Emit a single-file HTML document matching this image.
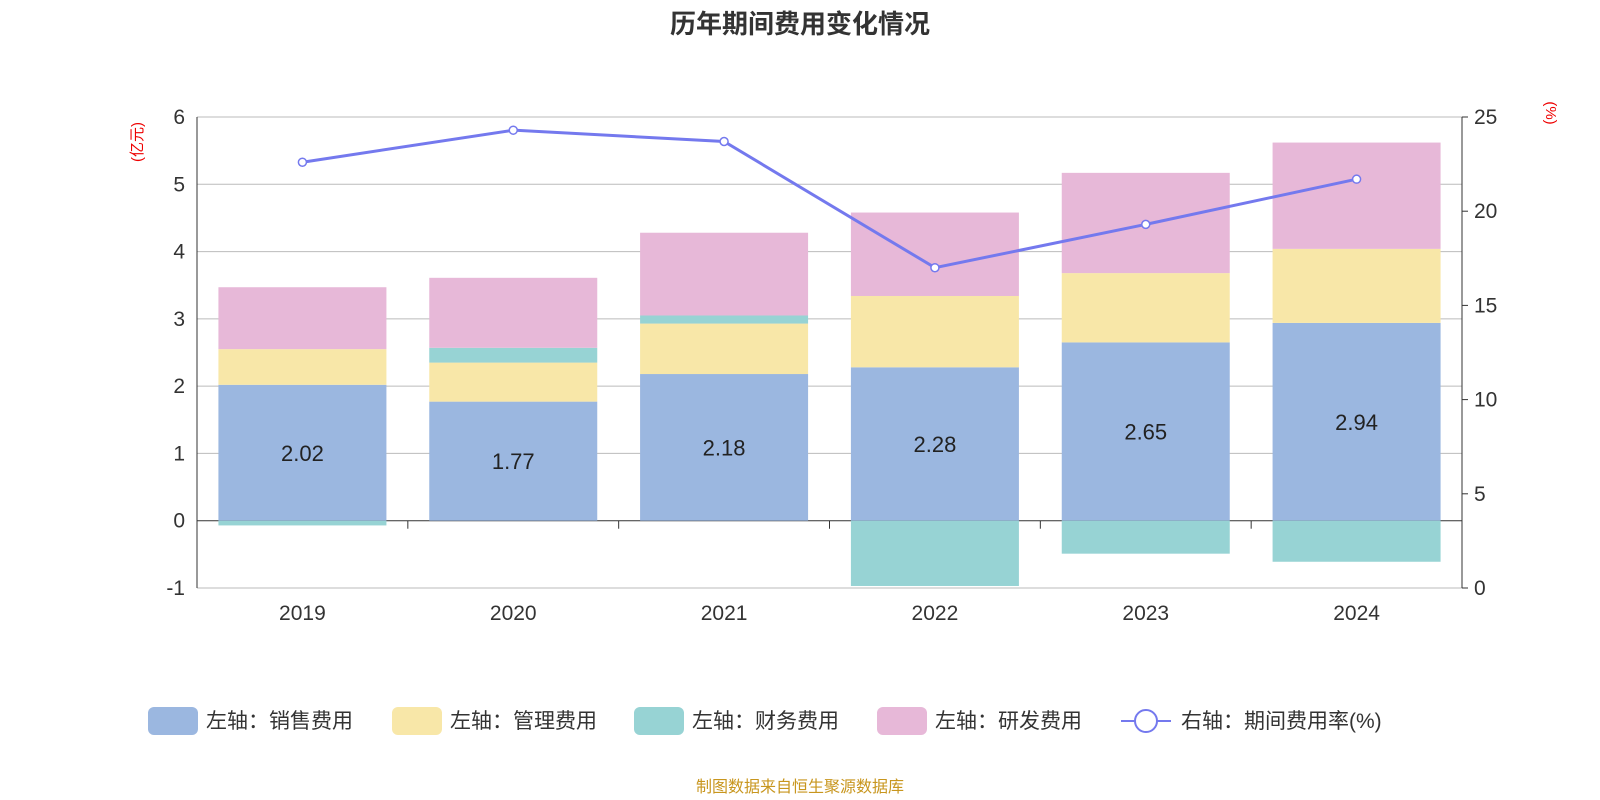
<!DOCTYPE html>
<html><head><meta charset="utf-8"><style>
html,body{margin:0;padding:0;background:#fff;}
svg{display:block;font-family:"Liberation Sans","Noto Sans CJK SC",sans-serif;}
</style></head><body>
<svg id="chart" width="1600" height="800">
<text x="800" y="33" text-anchor="middle" font-size="26" font-weight="bold" fill="#333">历年期间费用变化情况</text>
<text transform="translate(142,142) rotate(-90)" text-anchor="middle" font-size="15" fill="#e00">(亿元)</text>
<text transform="translate(1546,113) rotate(90)" text-anchor="middle" font-size="15" fill="#e00">(%)</text>
<g id="grid"></g><g id="bars"></g><g id="axes"></g><g id="line"></g>
<g id="legend" font-size="21" fill="#333"></g>
<text x="800" y="792" text-anchor="middle" font-size="16" fill="#c8961e">制图数据来自恒生聚源数据库</text>
</svg>
<script>
const categories=["2019","2020","2021","2022","2023","2024"];
const sales=[2.02,1.77,2.18,2.28,2.65,2.94];
const mgmt=[0.53,0.58,0.75,1.06,1.03,1.10];
const finance=[-0.07,0.22,0.12,-0.97,-0.49,-0.61];
const rnd=[0.92,1.04,1.23,1.24,1.49,1.58];
const rate=[22.6,24.3,23.7,17.0,19.3,21.7];
const leftTicks=[-1,0,1,2,3,4,5,6];
const rightTicks=[0,5,10,15,20,25];
const NS="http://www.w3.org/2000/svg";
const x0=197,x1=1462,yT=117,yB=588;
const yL=v=>yB-(v+1)/7*(yB-yT);
const yR=v=>yB-v/25*(yB-yT);
const cw=(x1-x0)/categories.length;
const xc=i=>x0+cw*(i+0.5);
function mk(tag,attrs,parent){const e=document.createElementNS(NS,tag);for(const k in attrs)e.setAttribute(k,attrs[k]);document.getElementById(parent).appendChild(e);return e;}
leftTicks.forEach(t=>{
 const l=mk('line',{x1:x0,x2:x1,y1:yL(t),y2:yL(t),stroke:t===0?'#333':'#bbb','stroke-width':1},'grid');
 
 
 const tx=mk('text',{x:x0-12,y:yL(t)+7,'text-anchor':'end','font-size':21,fill:'#333'},'axes');tx.textContent=t;
 
 
});
rightTicks.forEach(t=>{
 const tx=mk('text',{x:x1+12,y:yR(t)+7,'font-size':21,fill:'#333'},'axes');tx.textContent=t;
 
 
 mk('line',{x1:x1,x2:x1+6,y1:yR(t),y2:yR(t),stroke:'#333'},'axes');
});
mk('line',{x1:x0,x2:x0,y1:yT,y2:yB,stroke:'#333'},'axes');
mk('line',{x1:x1,x2:x1,y1:yT,y2:yB,stroke:'#333'},'axes');
for(let i=0;i<=categories.length;i++)mk('line',{x1:x0+cw*i,x2:x0+cw*i,y1:yL(0),y2:yL(0)+8,stroke:'#333'},'axes');
categories.forEach((c,i)=>{
 const tx=mk('text',{x:xc(i),y:620,'text-anchor':'middle','font-size':21,fill:'#333'},'axes');tx.textContent=c;
 
 
});
const bw=168;
const series=[[sales,'#9bb7e0','sales'],[mgmt,'#f8e7a8','mgmt'],[finance,'#97d3d4','finance'],[rnd,'#e7b8d8','rnd']];
categories.forEach((c,i)=>{
 let pos=0,neg=0;
 series.forEach(([arr,col,nm])=>{
  const v=arr[i];let a,b;
  if(v>=0){a=pos;b=pos+v;pos=b;}else{a=neg;b=neg+v;neg=b;}
  const r=mk('rect',{x:xc(i)-bw/2,y:Math.min(yL(a),yL(b)),width:bw,height:Math.abs(yL(a)-yL(b)),fill:col},'bars');
  
  
 });
 const tx=mk('text',{x:xc(i),y:(yL(0)+yL(sales[i]))/2+8,'text-anchor':'middle','font-size':22,fill:'#222'},'bars');
 tx.textContent=sales[i].toFixed(2);
 
 
});
const p=mk('polyline',{points:rate.map((v,i)=>xc(i)+','+yR(v)).join(' '),fill:'none',stroke:'#7479ee','stroke-width':3},'line');


rate.forEach((v,i)=>{
 const c=mk('circle',{cx:xc(i),cy:yR(v),r:4,fill:'#fff',stroke:'#7479ee','stroke-width':1.5},'line');
 
 
});
const leg=[['左轴：销售费用','#9bb7e0',148],['左轴：管理费用','#f8e7a8',392],['左轴：财务费用','#97d3d4',634],['左轴：研发费用','#e7b8d8',877]];
leg.forEach(([t,col,x])=>{
 const r=mk('rect',{x:x,y:707,width:50,height:28,rx:6,fill:col},'legend');
 
 
 const tx=mk('text',{x:x+58,y:728},'legend');tx.textContent=t;
 
 
});
mk('line',{x1:1121,x2:1171,y1:721,y2:721,stroke:'#7479ee','stroke-width':2},'legend');
const lc=mk('circle',{cx:1146,cy:721,r:11,fill:'#fff',stroke:'#7479ee','stroke-width':2},'legend');


const lt=mk('text',{x:1181,y:728},'legend');lt.textContent='右轴：期间费用率(%)';


</script>
</body></html>
